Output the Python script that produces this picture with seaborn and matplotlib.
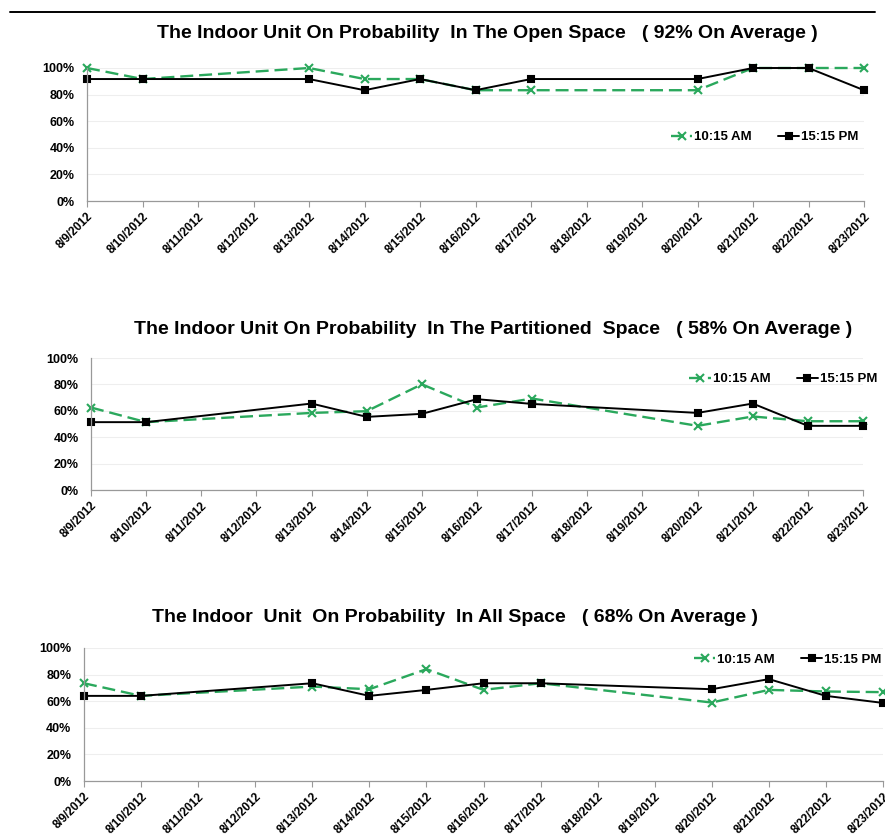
import pandas as pd
import seaborn as sns
import matplotlib.pyplot as plt
from matplotlib.lines import Line2D
from matplotlib.ticker import PercentFormatter

# measurement days (weekends skipped) and full axis range
dates = ["2012-08-09", "2012-08-10", "2012-08-13", "2012-08-14", "2012-08-15", "2012-08-16",
         "2012-08-17", "2012-08-20", "2012-08-21", "2012-08-22", "2012-08-23"]
axis_days = pd.date_range("2012-08-09", "2012-08-23", freq="D")
series_names = ["10:15 AM", "15:15 PM"]

# on probability (%)
open_am = [100, 91.7, 100, 91.7, 91.7, 83.3, 83.3, 83.3, 100, 100, 100]
open_pm = [91.7, 91.7, 91.7, 83.3, 91.7, 83.3, 91.7, 91.7, 100, 100, 83.3]
part_am = [62.5, 51.4, 58.4, 59.7, 80.1, 62.5, 69.3, 48.6, 55.7, 52.1, 52.1]
part_pm = [51.4, 51.4, 65.5, 55.4, 57.7, 68.8, 65.2, 58.4, 65.5, 48.6, 48.6]
all_am = [73.5, 64, 71, 69, 84.1, 68.5, 73.5, 59, 68.5, 67.3, 66.8]
all_pm = [64, 64, 73.5, 64, 68.5, 73.5, 73.5, 69, 76.6, 64, 58.7]

titles = ["The Indoor Unit On Probability  In The Open Space   ( 92% On Average )",
          "The Indoor Unit On Probability  In The Partitioned  Space   ( 58% On Average )",
          "The Indoor  Unit  On Probability  In All Space   ( 68% On Average )"]

sns.set_theme(style="white")
plt.rcParams['font.family'] = ['Liberation Sans', 'DejaVu Sans']
plt.rcParams['font.weight'] = 'bold'
plt.rcParams['text.color'] = 'black'
plt.rcParams['xtick.color'] = 'black'
plt.rcParams['ytick.color'] = 'black'

green = '#2aa85c'
styles = {
    "10:15 AM": dict(color=green, marker="x", dashes=(5.5, 2.5), lw=1.7, ms=5.5),
    "15:15 PM": dict(color="black", marker="s", dashes="", lw=1.4, ms=4.6),
}

fig = plt.figure(figsize=(8.85, 8.4), dpi=100)
W, H = 885, 840

# axes boxes in pixels: left, right, top(100%), bottom(0%)
boxes = [(87, 864, 68, 201), (91, 863, 358, 490), (84, 883, 648, 781)]
title_pos = [(487, 33), (493, 330), (455, 618)]
legend_pos = [(1.0, 0.48), (1.025, 0.84), (1.005, 0.91)]

panels = [(open_am, open_pm), (part_am, part_pm), (all_am, all_pm)]

for i, (am, pm) in enumerate(panels):
    l, r, t, b = boxes[i]
    ax = fig.add_axes([l / W, 1 - b / H, (r - l) / W, (b - t) / H])
    for name, vals in zip(series_names, (am, pm)):
        st = styles[name]
        df = pd.DataFrame({"date": pd.to_datetime(dates), "value": vals})
        sns.lineplot(data=df, x="date", y="value", color=st["color"],
                     marker=st["marker"], linewidth=st["lw"], markersize=st["ms"],
                     markeredgewidth=1.5, markeredgecolor=st["color"], label=name,
                     clip_on=False, ax=ax)
        if st["dashes"]:
            ax.lines[-1].set_dashes(st["dashes"])

    ax.set_xlim(axis_days[0], axis_days[-1])
    ax.set_ylim(0, 100)
    ax.set_yticks([0, 20, 40, 60, 80, 100])
    ax.yaxis.set_major_formatter(PercentFormatter(100, decimals=0))
    ax.set_xticks(axis_days)
    ax.set_xticklabels([f"{d.month}/{d.day}/{d.year}" for d in axis_days],
                       rotation=45, ha='right', rotation_mode='anchor')
    ax.tick_params(axis='x', bottom=True, length=4, width=0.8, color='#999999',
                   labelcolor='black', labelsize=8.5, pad=3)
    ax.tick_params(axis='y', left=False, labelcolor='black', labelsize=9, pad=3)
    for lab in ax.get_xticklabels() + ax.get_yticklabels():
        lab.set_fontweight('bold')
    ax.grid(axis='y', color='#eeeeee', linewidth=0.8)
    ax.set_axisbelow(True)
    for side in ['top', 'right']:
        ax.spines[side].set_visible(False)
    for side in ['left', 'bottom']:
        ax.spines[side].set_color('#999999')
        ax.spines[side].set_linewidth(0.9)
    ax.set_xlabel("")
    ax.set_ylabel("")

    handles, labels = ax.get_legend_handles_labels()
    leg = ax.legend(handles, labels, loc='center right', bbox_to_anchor=legend_pos[i],
                    ncol=2, frameon=False, handlelength=1.6, handletextpad=0.15,
                    columnspacing=2.0, borderaxespad=0, prop={'size': 9.5, 'weight': 'bold'})
    for txt in leg.get_texts():
        txt.set_color('black')

    tx, ty = title_pos[i]
    fig.text(tx / W, 1 - ty / H, titles[i], ha='center', va='center',
             fontsize=14, fontweight='bold', color='black')

# rule across the top of the page
fig.add_artist(Line2D([10 / W, 875 / W], [1 - 12 / H, 1 - 12 / H], color='black', linewidth=1.4))

fig.savefig("out.png", dpi=100)
